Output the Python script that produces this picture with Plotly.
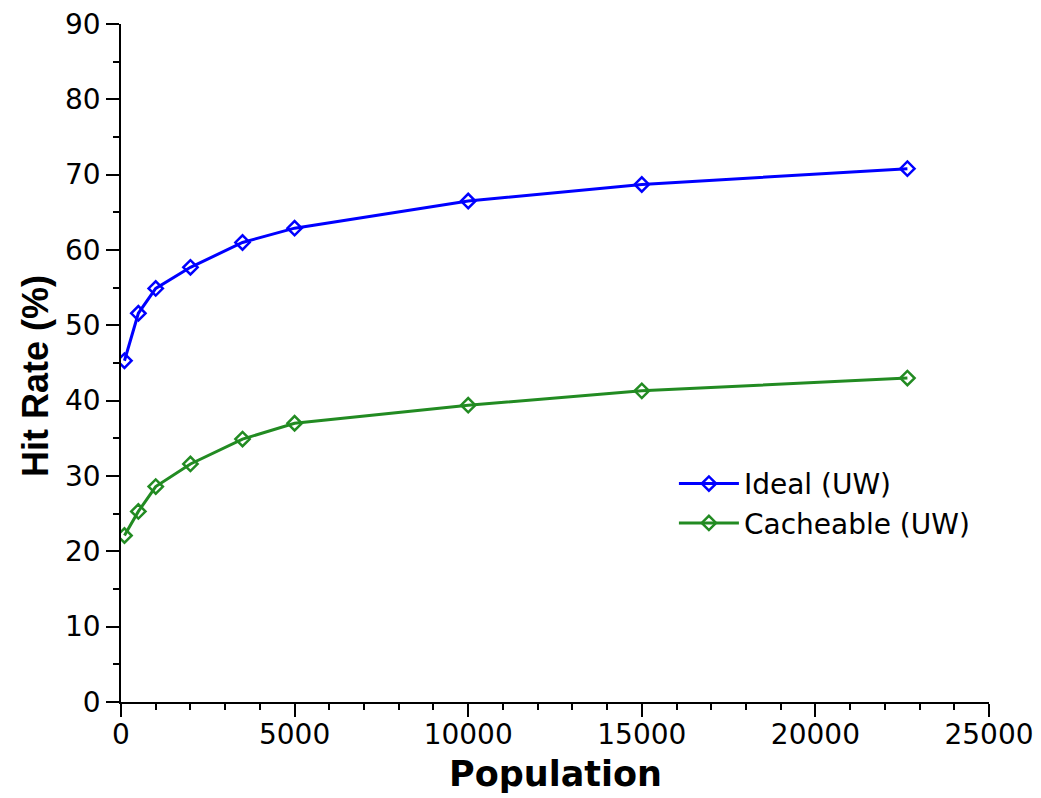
import plotly.graph_objects as go

population = [100, 500, 1000, 2000, 3500, 5000, 10000, 15000, 22650]
ideal_uw = [45.3, 51.6, 54.9, 57.7, 61.0, 62.9, 66.5, 68.7, 70.8]
cacheable_uw = [22.1, 25.3, 28.6, 31.6, 34.9, 37.0, 39.4, 41.3, 43.0]

series_names = ["Ideal (UW)", "Cacheable (UW)"]
series_colors = ["#0000ff", "#228b22"]

FONT = "DejaVu Sans, Liberation Sans, Arial, sans-serif"
FONT_Y = "Liberation Sans, Arial, Helvetica, sans-serif"

fig = go.Figure()
for name, vals, col in zip(series_names, [ideal_uw, cacheable_uw], series_colors):
    fig.add_trace(go.Scatter(
        x=population, y=vals, name=name, mode="lines+markers",
        line=dict(color=col, width=3),
        marker=dict(symbol="diamond-open", size=11, color=col,
                    line=dict(color=col, width=2.5)),
    ))

axis_common = dict(
    showgrid=False, zeroline=False, showline=True, linecolor="black",
    linewidth=1.5, ticks="outside", ticklen=13, tickwidth=1.5,
    tickcolor="black", tickfont=dict(family=FONT, size=28, color="black"),
    automargin=False, tickformat="d", ticklabeloverflow="allow",
)

fig.update_layout(
    width=1033, height=790,
    margin=dict(l=113, r=52, t=16, b=96),
    paper_bgcolor="white", plot_bgcolor="white",
    showlegend=True,
    legend=dict(x=0.637, y=0.293, xanchor="left", yanchor="middle",
                bgcolor="rgba(0,0,0,0)",
                font=dict(family=FONT, size=28, color="black"),
                tracegroupgap=0, itemwidth=60),
    xaxis=dict(range=[0, 25000], dtick=5000, tick0=0, ticklabelstandoff=-6,
               minor=dict(dtick=1000, ticks="outside", ticklen=6,
                          tickwidth=1.5, tickcolor="black"),
               **axis_common),
    yaxis=dict(range=[0, 90], dtick=10, tick0=0, ticklabelstandoff=0,
               minor=dict(dtick=5, ticks="outside", ticklen=6,
                          tickwidth=1.5, tickcolor="black"),
               **axis_common),
    annotations=[
        dict(text="<b>Population</b>", xref="paper", yref="paper",
             x=0.5, y=0, xanchor="center", yanchor="middle",
             yshift=-72, showarrow=False,
             font=dict(family=FONT, size=35, color="black")),
        dict(text="<b>Hit Rate (%)</b>", xref="paper", yref="paper",
             x=0, y=0.5, xanchor="center", yanchor="middle",
             xshift=-86, yshift=-13, textangle=-90, showarrow=False,
             font=dict(family=FONT_Y, size=36, color="black")),
    ],
)

fig.write_html("out.html")
